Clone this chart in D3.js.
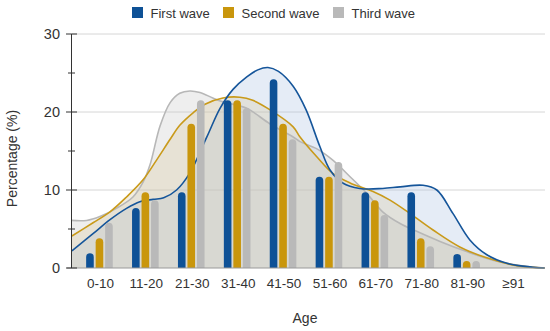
<!DOCTYPE html>
<html>
<head>
<meta charset="utf-8">
<script src="https://cdn.jsdelivr.net/npm/d3@7"></script>
<style>
  body { margin: 0; background: #fff; }
  svg { display: block; font-family: "Liberation Sans", Arial, sans-serif; }
</style>
</head>
<body>
<div id="chart"></div>
<script>
// age groups and percentages per wave
const categories = ["0-10", "11-20", "21-30", "31-40", "41-50", "51-60", "61-70", "71-80", "81-90", "\u226591"];
const seriesNames = ["First wave", "Second wave", "Third wave"];
const firstWave = [1.9, 7.7, 9.7, 21.5, 24.2, 11.7, 9.7, 9.7, 1.8, 0];
const secondWave = [3.8, 9.7, 18.5, 21.5, 18.5, 11.7, 8.7, 3.8, 0.9, 0];
const thirdWave = [5.8, 8.7, 21.5, 20.5, 16.5, 13.6, 6.8, 2.8, 0.9, 0];

// smoothed distribution curves: [category index, percentage]
const firstCurve = [[-0.6, 2.2], [-0.14, 4.4], [0.23, 6.2], [0.59, 7.65], [0.88, 8.5], [1.17, 8.8], [1.4, 9.0],
  [1.68, 10.0], [1.97, 12.2], [2.34, 16.8], [2.63, 20.5], [2.91, 22.9], [3.21, 24.5], [3.45, 25.4], [3.67, 25.7],
  [3.9, 25.2], [4.22, 23.3], [4.5, 20.3], [4.8, 15.6], [5.02, 12.6], [5.3, 10.9], [5.67, 10.2], [6.17, 10.2],
  [6.55, 10.4], [7.05, 10.6], [7.35, 10.0], [7.7, 7.0], [8.07, 3.6], [8.44, 1.7], [8.88, 0.6], [9.44, 0.1], [9.7, 0]];
const secondCurve = [[-0.6, 4.1], [-0.14, 5.8], [0.23, 7.2], [0.59, 9.1], [0.95, 11.3], [1.24, 13.8], [1.54, 16.5],
  [1.75, 18.3], [2.04, 19.9], [2.3, 21.0], [2.69, 21.8], [3.06, 21.9], [3.34, 21.5], [3.71, 20.3], [4.22, 18.1],
  [4.37, 16.8], [4.73, 14.3], [5.09, 12.1], [5.46, 10.9], [5.96, 9.8], [6.33, 8.7], [6.76, 7.0], [7.26, 4.9],
  [7.85, 2.7], [8.44, 1.3], [9.09, 0.3], [9.7, 0]];
const thirdCurve = [[-0.6, 6.1], [-0.28, 6.1], [0.01, 6.6], [0.37, 7.65], [0.73, 9.1], [0.95, 11.0], [1.1, 13.2],
  [1.32, 18.2], [1.54, 21.2], [1.75, 22.4], [1.97, 22.7], [2.19, 22.5], [2.47, 21.8], [2.69, 21.3], [3.2, 20.5],
  [3.71, 18.5], [4.22, 16.8], [4.37, 16.2], [4.73, 15.3], [5.09, 13.8], [5.46, 11.7], [5.82, 9.6], [6.17, 7.2],
  [6.55, 5.7], [6.91, 4.7], [7.42, 3.4], [8.0, 2.1], [8.57, 1.0], [9.16, 0.3], [9.7, 0]];

const yTicks = [0, 10, 20, 30];
const yMinorTicks = [5, 15, 25];

const width = 550, height = 331;
const plotLeft = 72, plotRight = 545, plotTop = 34, plotBottom = 268;

const barColors = ["#0e5196", "#c9960c", "#b9b9b9"];
const lineColors = ["#15559a", "#c99a1a", "#b7b7b7"];
const fillColors = ["#a9c1e2", "#d8c89a", "#c8c8c8"];
const textColor = "#333";

const svg = d3.select("#chart").append("svg")
  .attr("width", width)
  .attr("height", height);

const x = d3.scaleBand().domain(categories).range([76.5, 535.5]).padding(0);
const xIdx = d3.scaleLinear().domain([0, categories.length - 1])
  .range([x(categories[0]) + x.bandwidth() / 2, x(categories[categories.length - 1]) + x.bandwidth() / 2]);
const y = d3.scaleLinear().domain([0, 30]).range([plotBottom, plotTop]);
const sub = d3.scalePoint().domain(seriesNames).range([-9.5, 9.5]);
const barWidth = 7.6;

// gridlines
svg.append("g")
  .selectAll("line")
  .data(yTicks.filter(d => d > 0))
  .enter()
  .append("line")
  .attr("x1", plotLeft).attr("x2", plotRight)
  .attr("y1", d => y(d)).attr("y2", d => y(d))
  .attr("stroke", "#d6d6d6").attr("stroke-width", 1);

// areas: gray first, then blue, then gold on top
const smooth = d3.curveCatmullRom.alpha(0.5);
const area = d3.area()
  .x(d => xIdx(d[0]))
  .y0(y(0))
  .y1(d => y(d[1]))
  .curve(smooth);
const line = d3.line()
  .x(d => xIdx(d[0]))
  .y(d => y(d[1]))
  .curve(smooth);

const curves = [firstCurve, secondCurve, thirdCurve];
[2, 0, 1].forEach(i => {
  svg.append("path")
    .datum(curves[i])
    .attr("d", area)
    .attr("fill", fillColors[i])
    .attr("fill-opacity", 0.3);
});
[2, 1, 0].forEach(i => {
  svg.append("path")
    .datum(curves[i])
    .attr("d", line)
    .attr("fill", "none")
    .attr("stroke", lineColors[i])
    .attr("stroke-width", 1.6);
});

// bars with rounded tops
function barPath(cx, v) {
  const x0 = cx - barWidth / 2, x1 = cx + barWidth / 2;
  const yb = y(0), yt = y(v);
  const r = Math.min(barWidth / 2, (yb - yt));
  return "M" + x0 + "," + yb +
    "V" + (yt + r) +
    "A" + r + "," + r + " 0 0 1 " + (x0 + r) + "," + yt +
    "H" + (x1 - r) +
    "A" + r + "," + r + " 0 0 1 " + x1 + "," + (yt + r) +
    "V" + yb + "Z";
}
const waves = [firstWave, secondWave, thirdWave];
waves.forEach((vals, i) => {
  svg.append("g")
    .selectAll("path")
    .data(vals.map((v, j) => ({ cat: categories[j], v: v })).filter(d => d.v > 0))
    .enter()
    .append("path")
    .attr("d", d => barPath(x(d.cat) + x.bandwidth() / 2 + sub(seriesNames[i]), d.v))
    .attr("fill", barColors[i]);
});

// x baseline
svg.append("line")
  .attr("x1", 67).attr("x2", plotRight)
  .attr("y1", plotBottom).attr("y2", plotBottom)
  .attr("stroke", "#9a9a9a").attr("stroke-width", 1.2);

// y axis
const yAxis = svg.append("g");
yAxis.append("line")
  .attr("x1", plotLeft - 0.5).attr("x2", plotLeft - 0.5)
  .attr("y1", y(30)).attr("y2", y(0))
  .attr("stroke", "#333").attr("stroke-width", 1);
yAxis.selectAll(".major")
  .data(yTicks)
  .enter()
  .append("line")
  .attr("x1", plotLeft - 6).attr("x2", plotLeft + 5)
  .attr("y1", d => y(d)).attr("y2", d => y(d))
  .attr("stroke", "#333");
yAxis.selectAll(".minor")
  .data(yMinorTicks)
  .enter()
  .append("line")
  .attr("x1", plotLeft - 4).attr("x2", plotLeft + 3)
  .attr("y1", d => y(d)).attr("y2", d => y(d))
  .attr("stroke", "#333");
yAxis.selectAll("text")
  .data(yTicks)
  .enter()
  .append("text")
  .attr("x", 60)
  .attr("y", d => y(d))
  .attr("dy", "0.36em")
  .attr("text-anchor", "end")
  .attr("font-size", 14.5)
  .attr("fill", textColor)
  .text(d => d);

// x labels
svg.append("g")
  .selectAll("text")
  .data(categories)
  .enter()
  .append("text")
  .attr("x", d => x(d) + x.bandwidth() / 2 + 1)
  .attr("y", 288)
  .attr("text-anchor", "middle")
  .attr("font-size", 13.5)
  .attr("fill", textColor)
  .text(d => d);

// axis titles
svg.append("text")
  .attr("x", 305).attr("y", 323)
  .attr("text-anchor", "middle")
  .attr("font-size", 14)
  .attr("fill", textColor)
  .text("Age");
svg.append("text")
  .attr("transform", "translate(16.5,158.5) rotate(-90)")
  .attr("text-anchor", "middle")
  .attr("font-size", 14)
  .attr("fill", textColor)
  .text("Percentage (%)");

// legend
const legendX = [132, 223, 333];
const legend = svg.append("g");
seriesNames.forEach((name, i) => {
  legend.append("rect")
    .attr("x", legendX[i]).attr("y", 7)
    .attr("width", 11).attr("height", 11)
    .attr("fill", barColors[i]);
  legend.append("text")
    .attr("x", legendX[i] + 18.5).attr("y", 17.5)
    .attr("font-size", 13)
    .attr("fill", textColor)
    .text(name);
});
</script>
</body>
</html>
